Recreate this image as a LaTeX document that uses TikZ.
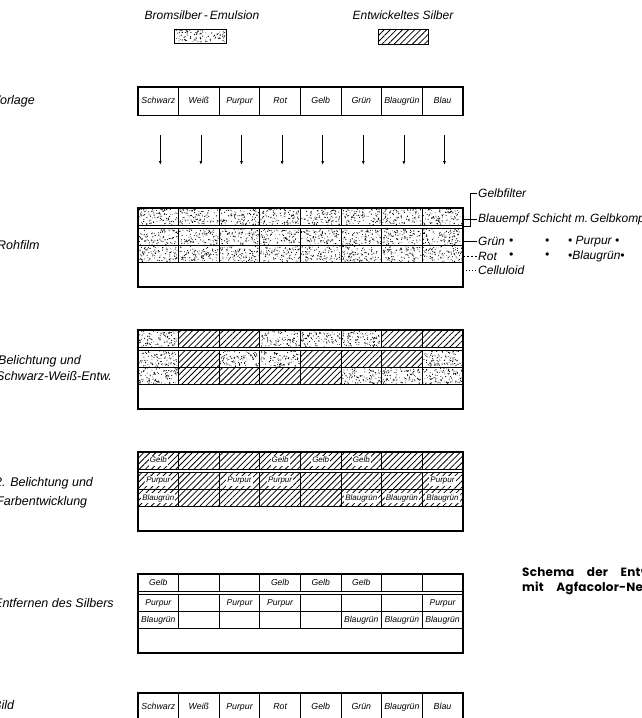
\documentclass[tikz,border=0pt]{standalone}
\usepackage{fontspec}
\setmainfont{Liberation Sans}
\newfontfamily\capfont[WordSpace=4.5,LetterSpace=2]{Poppins}
\usetikzlibrary{patterns.meta,arrows.meta}

% column grid shared by all film strips
\newcommand\colw{40.6}
\newcommand\xleft{138}
\newcommand\xright{462.8}

% random stipple for undeveloped silver bromide
\newcommand\stipple[4]{%
  \foreach \k in {1,...,95}{%
    \pgfmathsetmacro\px{(#1)+1+((#3)-(#1)-2)*rnd}%
    \pgfmathsetmacro\py{(#2)+1+((#4)-(#2)-2)*rnd}%
    \pgfmathsetmacro\pr{0.35+0.35*rnd}%
    \fill (\px,\py) circle[radius=\pr pt];%
  }}

% one emulsion layer: s = bromide, h = developed silver, w = empty
\newcommand\layerrow[3]{%
  \pgfmathsetmacro\ya{#1}%
  \pgfmathsetmacro\yb{#2}%
  \foreach \c [count=\i from 0] in {#3}{%
    \pgfmathsetmacro\xa{\xleft+\colw*\i}%
    \pgfmathsetmacro\xb{\xa+\colw}%
    \if\c s\stipple{\xa}{\ya}{\xb}{\yb}\fi
    \if\c h\fill[silver] (\xa,\ya) rectangle (\xb,\yb);\fi
    \draw[grid] (\xa,\ya) rectangle (\xb,\yb);
  }}

% three layers plus celluloid base
\newcommand\filmstack[4]{%
  \pgfmathsetmacro\ytop{#1}%
  \layerrow{\ytop}{\ytop+17.5}{#2}%
  \layerrow{\ytop+20}{\ytop+37.5}{#3}%
  \layerrow{\ytop+37.5}{\ytop+54.5}{#4}%
  \draw[frame] (\xleft,\ytop) rectangle (\xright,\ytop+79);
  \draw[grid] (\xleft,\ytop+54.5) -- (\xright,\ytop+54.5);
}

% dye names in the colour layers
\newcommand\dyelabels[2]{%
  \foreach \i in {1,4,5,6}{\node[#2] (gelb-#1-\i) at ({\xleft+\colw*(\i-0.5)},{#1+8.75}) {Gelb};}
  \foreach \i in {1,3,4,8}{\node[#2] (purpur-#1-\i) at ({\xleft+\colw*(\i-0.5)},{#1+28.75}) {Purpur};}
  \foreach \i in {1,6,7,8}{\node[#2] (blaugruen-#1-\i) at ({\xleft+\colw*(\i-0.5)},{#1+46}) {Blaugrün};}
}

\tikzset{
  lab/.style={font=\itshape\fontsize{12.5}{14}\selectfont, anchor=west, inner sep=0pt},
  side/.style={font=\itshape\fontsize{12}{13}\selectfont, anchor=west, inner sep=0pt},
  legendtxt/.style={font=\itshape\fontsize{12}{14}\selectfont, inner sep=0pt},
  vcell/.style={draw, line width=0.9pt, minimum width=40.6pt, minimum height=28pt,
    inner sep=0pt, text height=6.5pt, text depth=1.8pt, font=\itshape\fontsize{8.8}{9}\selectfont},
  dyetxt/.style={font=\itshape\fontsize{8}{8}\selectfont, inner sep=1pt, fill=white,
    text height=6pt, text depth=1.6pt},
  dyeplain/.style={font=\itshape\fontsize{8.6}{9}\selectfont, inner sep=0.8pt,
    text height=6.3pt, text depth=1.7pt},
  frame/.style={line width=1.4pt},
  grid/.style={line width=0.9pt},
  silver/.style={pattern={Lines[angle=45,distance=4.3pt,line width=0.8pt]}},
  ray/.style={line width=0.8pt,-{Latex[length=4pt,width=3pt]}},
  leader/.style={line width=0.7pt},
  captxt/.style={anchor=west, inner sep=0pt, font=\capfont\bfseries\fontsize{12}{13}\selectfont},
}

\begin{document}
\begin{tikzpicture}[x=1pt,y=-1pt]
\useasboundingbox (0,0) rectangle (642,718);
\pgfmathsetseed{42}

% legend
\node[legendtxt] (lgbrom) at (202,15) {Bromsilber\,-\,Emulsion};
\node[legendtxt] (lgsilb) at (403,15) {Entwickeltes Silber};
\stipple{174}{29}{226}{43}
\draw[grid] (174,29) rectangle (226,43);
\fill[silver] (378,29) rectangle (428,44);
\draw[grid] (378,29) rectangle (428,44);

% original colours
\node[lab] (tvorlage) at (-8,101) {Vorlage};
\foreach \t [count=\i] in {Schwarz,Weiß,Purpur,Rot,Gelb,Grün,Blaugrün,Blau}
  \node[vcell] (v\i) at ({\xleft+\colw*(\i-0.5)},101) {\t};
\draw[frame] (v1.north west) rectangle (v8.south east);

% exposing light
\foreach \i in {1,...,8}{
  \coordinate (ra\i) at ({\xleft+\colw*(\i-0.5)+2},135);
  \coordinate (rb\i) at ({\xleft+\colw*(\i-0.5)+2},165);
  \draw[ray] (ra\i) -- (rb\i);
}

% raw film
\node[lab] (troh) at (-3,245) {Rohfilm};
\filmstack{208}{s,s,s,s,s,s,s,s}{s,s,s,s,s,s,s,s}{s,s,s,s,s,s,s,s}

\node[side] (lgelbf) at (478,193) {Gelbfilter};
\node[side] (lblau) at (478,219) {Blauempf Schicht m.\,Gelbkomp};
\node[side] (lgruen) at (478,241.5) {Grün};
\node[side] (lrot) at (478,256) {Rot};
\node[side] (lcell) at (478,270) {Celluloid};
\node[side] (b1) at (509,241.5) {•};
\node[side] (b2) at (545,241.5) {•};
\node[side] (lpurp) at (568,241.5) {• Purpur •};
\node[side] (b3) at (509,256) {•};
\node[side] (b4) at (545,256) {•};
\node[side] (lbgr) at (568,256) {•Blaugrün•};

\coordinate (egelbf) at (\xright,226.75);
\coordinate (eblau) at (\xright,219);
\coordinate (egruen) at (\xright,241.5);
\coordinate (erot) at (\xright,256);
\coordinate (ecell) at (\xright,270);
\draw[leader] (egelbf) -- ++(7.5,0) |- ([xshift=-1pt]lgelbf.west);
\draw[leader] (eblau) -- ([xshift=-1pt]lblau.west);
\draw[leader] (egruen) -- ([xshift=-1pt]lgruen.west);
\draw[leader, dash pattern=on 2.5pt off 1.5pt] (erot) -- ([xshift=-1pt]lrot.west);
\draw[leader, dash pattern=on 1pt off 2pt] (ecell) -- ([xshift=-1pt]lcell.west);

% first exposure, black-and-white development
\node[lab] (tbel1) at (-2,361) {Belichtung und};
\node[lab] (tbel2) at (-4,376) {Schwarz-Weiß-Entw.};
\filmstack{330}{s,h,h,s,s,s,h,h}{s,h,s,s,h,h,h,s}{s,h,h,h,h,s,s,s}

% second exposure, colour development
\node[lab] (tfarb1) at (-5,483) {2. Belichtung und};
\node[lab] (tfarb2) at (-4,502) {Farbentwicklung};
\filmstack{452}{h,h,h,h,h,h,h,h}{h,h,h,h,h,h,h,h}{h,h,h,h,h,h,h,h}
\dyelabels{452}{dyetxt}

% silver removed
\node[lab] (tentf) at (-6,603) {Entfernen des Silbers};
\filmstack{574}{w,w,w,w,w,w,w,w}{w,w,w,w,w,w,w,w}{w,w,w,w,w,w,w,w}
\dyelabels{574}{dyeplain}

% resulting picture
\node[lab] (tbild) at (-7,705) {Bild};
\foreach \t [count=\i] in {Schwarz,Weiß,Purpur,Rot,Gelb,Grün,Blaugrün,Blau}
  \node[vcell] (w\i) at ({\xleft+\colw*(\i-0.5)},707) {\t};
\draw[frame] (w1.north west) rectangle (w8.south east);

% caption
\node[captxt] (cap1) at (522,573) {Schema der Entwicklung};
\node[captxt] (cap2) at (522,588) {mit Agfacolor-Neu};
\end{tikzpicture}
\end{document}
